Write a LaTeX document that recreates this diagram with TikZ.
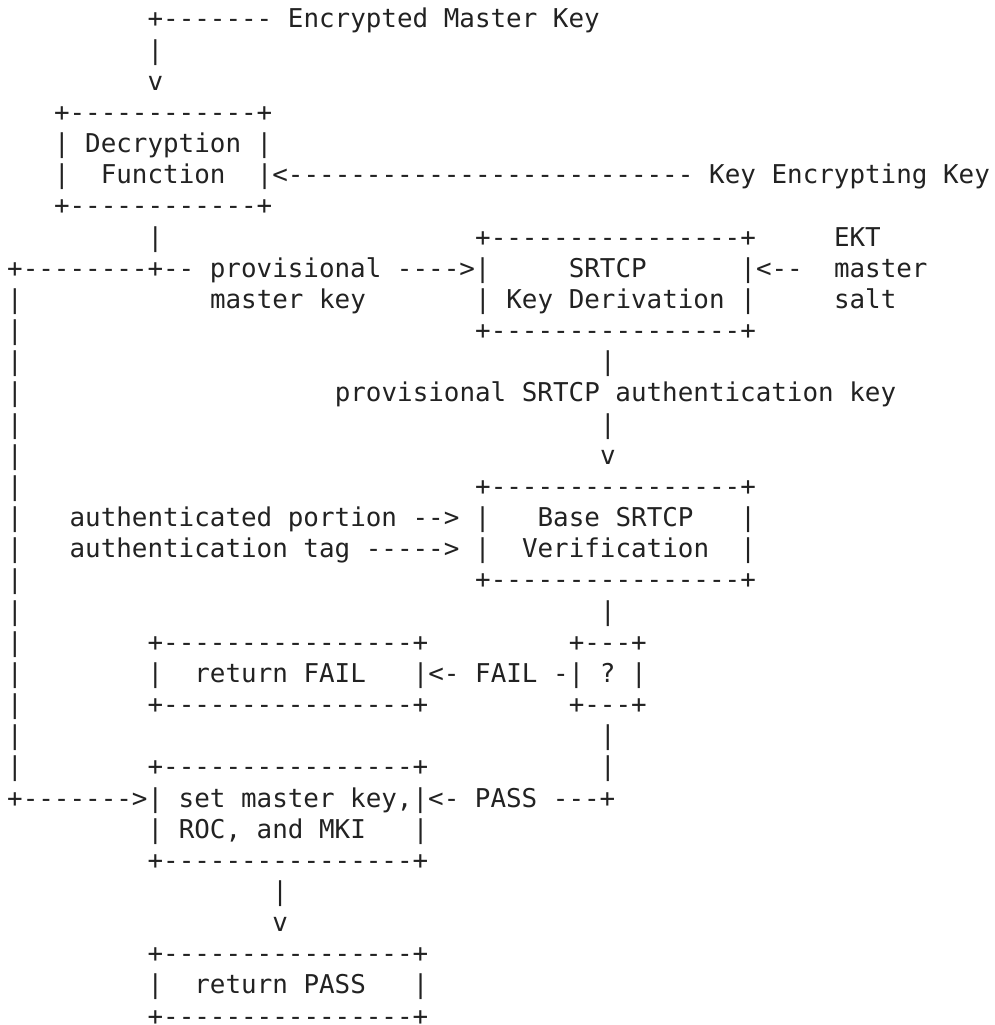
\documentclass[tikz,border=0pt]{standalone}
\usepackage{fontspec}
\setmonofont{DejaVu Sans Mono}
\definecolor{ink}{RGB}{34,34,34}
\tikzset{asc/.style={font=\fontsize{25.9}{31}\selectfont\ttfamily, text=ink, inner sep=0pt, outer sep=0pt, text depth=0pt, anchor=base west}}
\newcommand\asctext[4]{\node[asc] (#1) at ({7.2+15.6*#3},{28+31.16*(#2-1)}) {#4};}
\begin{document}
\begin{tikzpicture}[x=1pt,y=-1pt]
\useasboundingbox (0,0) rectangle (995,1025);
% row 1-7: decryption
\asctext{emk}{1}{9}{+------- Encrypted Master Key}
\asctext{r2}{2}{9}{|}
\asctext{r3}{3}{9}{v}
\asctext{dtop}{4}{3}{+------------+}
\asctext{dl1}{5}{3}{| Decryption |}
\asctext{dl2a}{6}{3}{|}
\asctext{dl2b}{6}{6}{Function}
\asctext{dl2c}{6}{16}{|<--------------------------}
\asctext{kek}{6}{45}{Key Encrypting Key}
\asctext{dbot}{7}{3}{+------------+}
% rows 8-11: key derivation
\asctext{r8a}{8}{9}{|}
\asctext{kdtop}{8}{30}{+----------------+}
\asctext{ekt}{8}{53}{EKT}
\asctext{r9a}{9}{0}{+--------+-- provisional ---->|}
\asctext{r9b}{9}{36}{SRTCP}
\asctext{r9c}{9}{47}{|<--}
\asctext{r9d}{9}{53}{master}
\asctext{r10a}{10}{0}{|}
\asctext{r10b}{10}{13}{master key}
\asctext{r10c}{10}{30}{| Key Derivation |}
\asctext{r10d}{10}{53}{salt}
\asctext{r11a}{11}{0}{|}
\asctext{kdbot}{11}{30}{+----------------+}
% rows 12-15
\asctext{r12a}{12}{0}{|}
\asctext{r12b}{12}{38}{|}
\asctext{r13a}{13}{0}{|}
\asctext{r13b}{13}{21}{provisional SRTCP authentication key}
\asctext{r14a}{14}{0}{|}
\asctext{r14b}{14}{38}{|}
\asctext{r15a}{15}{0}{|}
\asctext{r15b}{15}{38}{v}
% rows 16-19: verification
\asctext{r16a}{16}{0}{|}
\asctext{vtop}{16}{30}{+----------------+}
\asctext{r17a}{17}{0}{|}
\asctext{r17b}{17}{4}{authenticated portion --> |}
\asctext{r17c}{17}{34}{Base SRTCP}
\asctext{r17d}{17}{47}{|}
\asctext{r18a}{18}{0}{|}
\asctext{r18b}{18}{4}{authentication tag -----> |}
\asctext{r18c}{18}{33}{Verification}
\asctext{r18d}{18}{47}{|}
\asctext{r19a}{19}{0}{|}
\asctext{vbot}{19}{30}{+----------------+}
% rows 20-25: fail
\asctext{r20a}{20}{0}{|}
\asctext{r20b}{20}{38}{|}
\asctext{r21a}{21}{0}{|}
\asctext{ftop}{21}{9}{+----------------+}
\asctext{qtop}{21}{36}{+---+}
\asctext{r22a}{22}{0}{|}
\asctext{r22b}{22}{9}{|}
\asctext{r22c}{22}{12}{return FAIL}
\asctext{r22d}{22}{26}{|<- FAIL -| ? |}
\asctext{r23a}{23}{0}{|}
\asctext{fbot}{23}{9}{+----------------+}
\asctext{qbot}{23}{36}{+---+}
\asctext{r24a}{24}{0}{|}
\asctext{r24b}{24}{38}{|}
\asctext{r25a}{25}{0}{|}
\asctext{stop}{25}{9}{+----------------+}
\asctext{r25b}{25}{38}{|}
% rows 26-33: set and pass
\asctext{r26}{26}{0}{+------->| set master key,|<- PASS ---+}
\asctext{r27a}{27}{9}{| ROC, and MKI}
\asctext{r27b}{27}{26}{|}
\asctext{sbot}{28}{9}{+----------------+}
\asctext{r29}{29}{17}{|}
\asctext{r30}{30}{17}{v}
\asctext{ptop}{31}{9}{+----------------+}
\asctext{r32a}{32}{9}{|}
\asctext{r32b}{32}{12}{return PASS}
\asctext{r32c}{32}{26}{|}
\asctext{pbot}{33}{9}{+----------------+}
\end{tikzpicture}
\end{document}
